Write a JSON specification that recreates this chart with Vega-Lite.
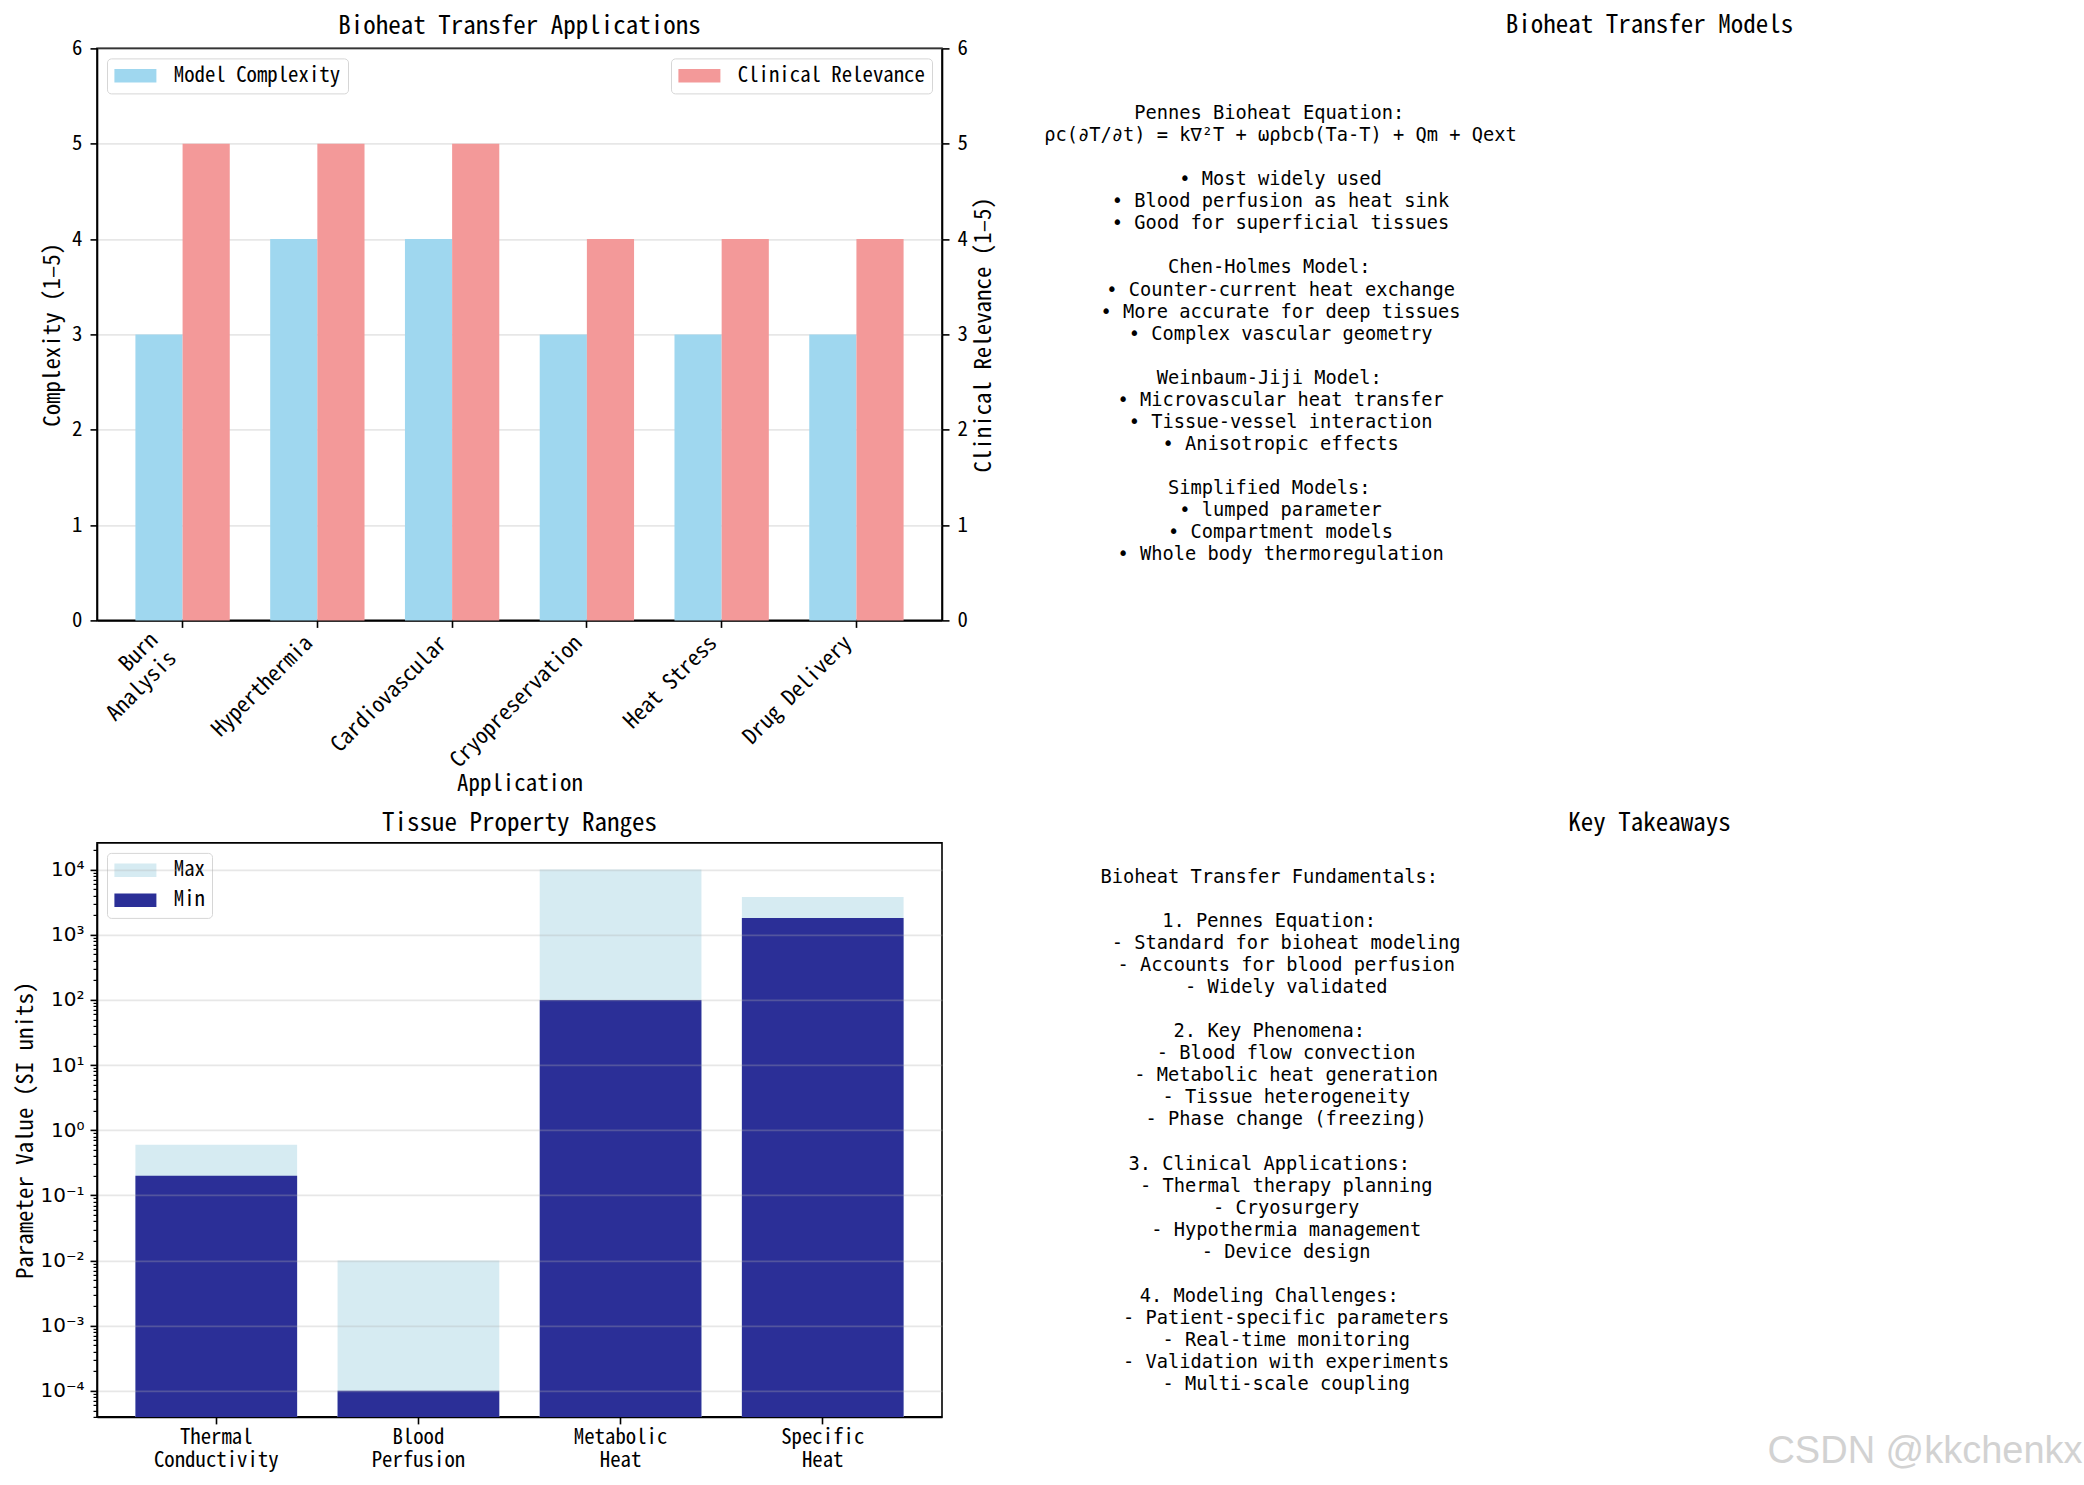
{
  "$schema": "https://vega.github.io/schema/vega-lite/v6.json",
  "background": "white",
  "padding": {"left": 13, "top": 12.4, "right": 0, "bottom": 0},
  "config": {
    "font": "Noto Sans Mono CJK SC, Noto Sans CJK SC, sans-serif",
    "view": {"stroke": "black", "strokeWidth": 1.6},
    "axis": {
      "domainColor": "black", "domainWidth": 1.6,
      "tickColor": "black", "tickWidth": 1.6, "tickSize": 7,
      "labelFontSize": 20.8, "labelColor": "black", "labelPadding": 7,
      "labelOverlap": false, "labelFlush": false,
      "titleFontSize": 22.9, "titleFontWeight": "normal", "titleColor": "black",
      "gridColor": "#b0b0b0", "gridOpacity": 0.3, "gridWidth": 1.6
    },
    "title": {"fontSize": 25, "fontWeight": "normal", "color": "black", "offset": 9, "frame": "group"},
    "legend": {
      "labelFontSize": 20.8, "labelColor": "black", "strokeColor": "#d6d6d6", "fillColor": "white",
      "cornerRadius": 4, "padding": 7, "offset": 10,
      "symbolType": "M-3,-0.96H3V0.96H-3Z", "symbolSize": 196, "symbolStrokeWidth": 0,
      "symbolOffset": 11, "labelOffset": 28, "rowPadding": 8, "labelLimit": 400
    }
  },
  "datasets": {
    "apps": [
      {"app": "Burn\nAnalysis", "series": "Model Complexity", "value": 3},
      {"app": "Hyperthermia", "series": "Model Complexity", "value": 4},
      {"app": "Cardiovascular", "series": "Model Complexity", "value": 4},
      {"app": "Cryopreservation", "series": "Model Complexity", "value": 3},
      {"app": "Heat Stress", "series": "Model Complexity", "value": 3},
      {"app": "Drug Delivery", "series": "Model Complexity", "value": 3},
      {"app": "Burn\nAnalysis", "series": "Clinical Relevance", "value": 5},
      {"app": "Hyperthermia", "series": "Clinical Relevance", "value": 5},
      {"app": "Cardiovascular", "series": "Clinical Relevance", "value": 5},
      {"app": "Cryopreservation", "series": "Clinical Relevance", "value": 4},
      {"app": "Heat Stress", "series": "Clinical Relevance", "value": 4},
      {"app": "Drug Delivery", "series": "Clinical Relevance", "value": 4}
    ],
    "tissue": [
      {"param": "Thermal\nConductivity", "bound": "Max", "value": 0.6},
      {"param": "Blood\nPerfusion", "bound": "Max", "value": 0.01},
      {"param": "Metabolic\nHeat", "bound": "Max", "value": 10000},
      {"param": "Specific\nHeat", "bound": "Max", "value": 3800},
      {"param": "Thermal\nConductivity", "bound": "Min", "value": 0.2},
      {"param": "Blood\nPerfusion", "bound": "Min", "value": 0.0001},
      {"param": "Metabolic\nHeat", "bound": "Min", "value": 100},
      {"param": "Specific\nHeat", "bound": "Min", "value": 1800}
    ],
    "models": [
      {"line": 0, "kind": "head", "text": "Pennes Bioheat Equation:"},
      {"line": 1, "kind": "item", "text": "ρc(∂T/∂t) = k∇²T + ωρbcb(Ta-T) + Qm + Qext"},
      {"line": 3, "kind": "item", "text": "• Most widely used"},
      {"line": 4, "kind": "item", "text": "• Blood perfusion as heat sink"},
      {"line": 5, "kind": "item", "text": "• Good for superficial tissues"},
      {"line": 7, "kind": "head", "text": "Chen-Holmes Model:"},
      {"line": 8, "kind": "item", "text": "• Counter-current heat exchange"},
      {"line": 9, "kind": "item", "text": "• More accurate for deep tissues"},
      {"line": 10, "kind": "item", "text": "• Complex vascular geometry"},
      {"line": 12, "kind": "head", "text": "Weinbaum-Jiji Model:"},
      {"line": 13, "kind": "item", "text": "• Microvascular heat transfer"},
      {"line": 14, "kind": "item", "text": "• Tissue-vessel interaction"},
      {"line": 15, "kind": "item", "text": "• Anisotropic effects"},
      {"line": 17, "kind": "head", "text": "Simplified Models:"},
      {"line": 18, "kind": "item", "text": "• lumped parameter"},
      {"line": 19, "kind": "item", "text": "• Compartment models"},
      {"line": 20, "kind": "item", "text": "• Whole body thermoregulation"}
    ],
    "takeaways": [
      {"line": 0, "kind": "head", "text": "Bioheat Transfer Fundamentals:"},
      {"line": 2, "kind": "head", "text": "1. Pennes Equation:"},
      {"line": 3, "kind": "item", "text": "- Standard for bioheat modeling"},
      {"line": 4, "kind": "item", "text": "- Accounts for blood perfusion"},
      {"line": 5, "kind": "item", "text": "- Widely validated"},
      {"line": 7, "kind": "head", "text": "2. Key Phenomena:"},
      {"line": 8, "kind": "item", "text": "- Blood flow convection"},
      {"line": 9, "kind": "item", "text": "- Metabolic heat generation"},
      {"line": 10, "kind": "item", "text": "- Tissue heterogeneity"},
      {"line": 11, "kind": "item", "text": "- Phase change (freezing)"},
      {"line": 13, "kind": "head", "text": "3. Clinical Applications:"},
      {"line": 14, "kind": "item", "text": "- Thermal therapy planning"},
      {"line": 15, "kind": "item", "text": "- Cryosurgery"},
      {"line": 16, "kind": "item", "text": "- Hypothermia management"},
      {"line": 17, "kind": "item", "text": "- Device design"},
      {"line": 19, "kind": "head", "text": "4. Modeling Challenges:"},
      {"line": 20, "kind": "item", "text": "- Patient-specific parameters"},
      {"line": 21, "kind": "item", "text": "- Real-time monitoring"},
      {"line": 22, "kind": "item", "text": "- Validation with experiments"},
      {"line": 23, "kind": "item", "text": "- Multi-scale coupling"}
    ],
    "mark": [
      {"text": "CSDN @kkchenkx"}
    ]
  },
  "columns": 2,
  "spacing": {"row": 222.5, "column": 285},
  "bounds": "flush",
  "resolve": {"scale": {"color": "independent", "x": "independent", "y": "independent"}},
  "concat": [
    {
      "title": {"text": "Bioheat Transfer Applications", "frame": "group", "offset": -1.4},
      "width": 845,
      "height": 572,
      "data": {"name": "apps"},
      "layer": [
        {
          "transform": [{"filter": "datum.series === 'Model Complexity'"}],
          "mark": {"type": "bar"},
          "encoding": {
            "x": {
              "field": "app", "type": "nominal",
              "sort": ["Burn\nAnalysis", "Hyperthermia", "Cardiovascular", "Cryopreservation", "Heat Stress", "Drug Delivery"],
              "scale": {"paddingInner": 0.3, "paddingOuter": 0.285},
              "axis": {
                "labelExpr": "split(datum.label, '\\n')",
                "labelAngle": -45, "labelAlign": "right", "labelBaseline": "bottom",
                "labelFontSize": 22, "labelLineHeight": 26,
                "labelPadding": {"condition": {"test": "datum.value === 'Burn\\nAnalysis'", "value": 17}, "value": 20},
                "labelOffset": {"condition": {"test": "datum.value === 'Burn\\nAnalysis'", "value": -20}, "value": 0},
                "title": "Application", "titleY": 163.5, "titleBaseline": "middle"
              }
            },
            "xOffset": {
              "field": "series", "type": "nominal",
              "scale": {"domain": ["Model Complexity", "Clinical Relevance"], "paddingInner": 0, "paddingOuter": 0}
            },
            "y": {
              "field": "value", "type": "quantitative",
              "scale": {"domain": [0, 6], "nice": false},
              "axis": {
                "orient": "left", "values": [0, 1, 2, 3, 4, 5, 6], "grid": true,
                "labelPadding": 8,
                "title": "Complexity (1–5)", "titleX": -45, "titleBaseline": "middle"
              }
            },
            "color": {
              "field": "series", "type": "nominal",
              "scale": {"domain": ["Model Complexity"], "range": ["#9fd7ef"]},
              "legend": {"title": null, "orient": "top-left", "symbolType": "M-3,-0.96H3V0.96H-3Z", "symbolSize": 196, "symbolStrokeWidth": 0}
            }
          }
        },
        {
          "transform": [{"filter": "datum.series === 'Clinical Relevance'"}],
          "mark": {"type": "bar"},
          "encoding": {
            "x": {
              "field": "app", "type": "nominal",
              "sort": ["Burn\nAnalysis", "Hyperthermia", "Cardiovascular", "Cryopreservation", "Heat Stress", "Drug Delivery"]
            },
            "xOffset": {"field": "series", "type": "nominal"},
            "y": {
              "field": "value", "type": "quantitative",
              "scale": {"domain": [0, 6], "nice": false},
              "axis": {
                "orient": "right", "values": [0, 1, 2, 3, 4, 5, 6], "grid": false,
                "labelPadding": 8,
                "title": "Clinical Relevance (1–5)", "titleX": 41, "titleAngle": 270, "titleBaseline": "middle"
              }
            },
            "color": {
              "field": "series", "type": "nominal",
              "scale": {"domain": ["Clinical Relevance"], "range": ["#f39999"]},
              "legend": {"title": null, "orient": "top-right", "symbolType": "M-3,-0.96H3V0.96H-3Z", "symbolSize": 196, "symbolStrokeWidth": 0}
            }
          }
        }
      ],
      "resolve": {"scale": {"y": "independent", "color": "independent"}}
    },
    {
      "title": {"text": "Bioheat Transfer Models", "frame": "group", "offset": 10.5},
      "width": 845,
      "height": 572,
      "view": {"stroke": null},
      "data": {"name": "models"},
      "encoding": {
        "x": {"datum": 0.05, "type": "quantitative", "scale": {"domain": [0, 1], "nice": false, "zero": false}, "axis": null},
        "y": {"field": "line", "type": "quantitative", "scale": {"domain": [-2.925, 22.993], "reverse": true, "nice": false, "zero": false}, "axis": null},
        "text": {"field": "text"}
      },
      "layer": [
        {
          "transform": [{"filter": "datum.kind === 'head'"}],
          "mark": {"type": "text", "font": "DejaVu Sans Mono", "fontSize": 18.7, "align": "center", "baseline": "middle", "color": "black"}
        },
        {
          "transform": [{"filter": "datum.kind === 'item'"}],
          "mark": {"type": "text", "font": "DejaVu Sans Mono", "fontSize": 18.7, "align": "center", "baseline": "middle", "color": "black", "dx": 11.3}
        }
      ]
    },
    {
      "title": {"text": "Tissue Property Ranges", "frame": "group", "offset": 7},
      "width": 845,
      "height": 574,
      "data": {"name": "tissue"},
      "layer": [
        {
          "mark": {"type": "bar"},
          "encoding": {
            "x": {
              "field": "param", "type": "nominal",
              "sort": ["Thermal\nConductivity", "Blood\nPerfusion", "Metabolic\nHeat", "Specific\nHeat"],
              "scale": {"paddingInner": 0.2, "paddingOuter": 0.19},
              "axis": {
                "labelExpr": "split(datum.label, '\\n')",
                "labelAngle": 0, "labelAlign": "center", "labelBaseline": "top",
                "labelLineHeight": 23, "labelPadding": 4, "title": null
              }
            },
            "y": {
              "field": "value", "type": "quantitative", "stack": null,
              "scale": {"type": "log", "domain": [3.98e-5, 25700], "nice": false},
              "axis": {
                "orient": "left",
                "values": [0.0001, 0.001, 0.01, 0.1, 1, 10, 100, 1000, 10000],
                "labelExpr": "'10' + (datum.value < 1 ? '⁻' : '') + substring('⁰¹²³⁴⁵⁶⁷⁸⁹', abs(round(log(datum.value) / LN10)), abs(round(log(datum.value) / LN10)) + 1)",
                "labelFont": "DejaVu Sans", "labelFontSize": 20, "labelPadding": 6,
                "grid": true, "zindex": 1,
                "title": "Parameter Value (SI units)", "titleX": -71.5, "titleBaseline": "middle"
              }
            },
            "color": {
              "field": "bound", "type": "nominal",
              "scale": {"domain": ["Max", "Min"], "range": ["#d6ebf2", "#2b2f97"]},
              "legend": {"title": null, "orient": "top-left", "symbolType": "M-3,-0.96H3V0.96H-3Z", "symbolSize": 196, "symbolStrokeWidth": 0}
            }
          }
        },
        {
          "mark": {"type": "point", "opacity": 0},
          "encoding": {
            "x": {
              "field": "param", "type": "nominal",
              "sort": ["Thermal\nConductivity", "Blood\nPerfusion", "Metabolic\nHeat", "Specific\nHeat"]
            },
            "y": {
              "field": "value", "type": "quantitative",
              "axis": {
                "orient": "left",
                "values": [4e-5, 5e-5, 6e-5, 7e-5, 8e-5, 9e-5,
                  2e-4, 3e-4, 4e-4, 5e-4, 6e-4, 7e-4, 8e-4, 9e-4,
                  0.002, 0.003, 0.004, 0.005, 0.006, 0.007, 0.008, 0.009,
                  0.02, 0.03, 0.04, 0.05, 0.06, 0.07, 0.08, 0.09,
                  0.2, 0.3, 0.4, 0.5, 0.6, 0.7, 0.8, 0.9,
                  2, 3, 4, 5, 6, 7, 8, 9,
                  20, 30, 40, 50, 60, 70, 80, 90,
                  200, 300, 400, 500, 600, 700, 800, 900,
                  2000, 3000, 4000, 5000, 6000, 7000, 8000, 9000, 20000],
                "labels": false, "domain": false, "grid": false,
                "tickSize": 4, "tickWidth": 1.2, "title": null, "zindex": 1
              }
            }
          }
        }
      ],
      "resolve": {"axis": {"y": "independent"}}
    },
    {
      "title": {"text": "Key Takeaways", "frame": "group", "offset": 7},
      "width": 845,
      "height": 574,
      "view": {"stroke": null},
      "layer": [
        {
          "data": {"name": "takeaways"},
          "transform": [{"filter": "datum.kind === 'head'"}],
          "mark": {"type": "text", "font": "DejaVu Sans Mono", "fontSize": 18.7, "align": "center", "baseline": "middle", "color": "black"},
          "encoding": {
            "x": {"datum": 0.05, "type": "quantitative", "scale": {"domain": [0, 1], "nice": false, "zero": false}, "axis": null},
            "y": {"field": "line", "type": "quantitative", "scale": {"domain": [-1.542, 24.49], "reverse": true, "nice": false, "zero": false}, "axis": null},
            "text": {"field": "text"}
          }
        },
        {
          "data": {"name": "takeaways"},
          "transform": [{"filter": "datum.kind === 'item'"}],
          "mark": {"type": "text", "font": "DejaVu Sans Mono", "fontSize": 18.7, "align": "center", "baseline": "middle", "color": "black", "dx": 16.9},
          "encoding": {
            "x": {"datum": 0.05, "type": "quantitative"},
            "y": {"field": "line", "type": "quantitative"},
            "text": {"field": "text"}
          }
        },
        {
          "data": {"name": "mark"},
          "mark": {"type": "text", "font": "Liberation Sans", "fontSize": 38, "align": "center", "baseline": "middle", "color": "#d2d2d2"},
          "encoding": {
            "x": {"datum": 0.826, "type": "quantitative"},
            "y": {"datum": 26.08, "type": "quantitative"},
            "text": {"field": "text"}
          }
        }
      ]
    }
  ]
}
